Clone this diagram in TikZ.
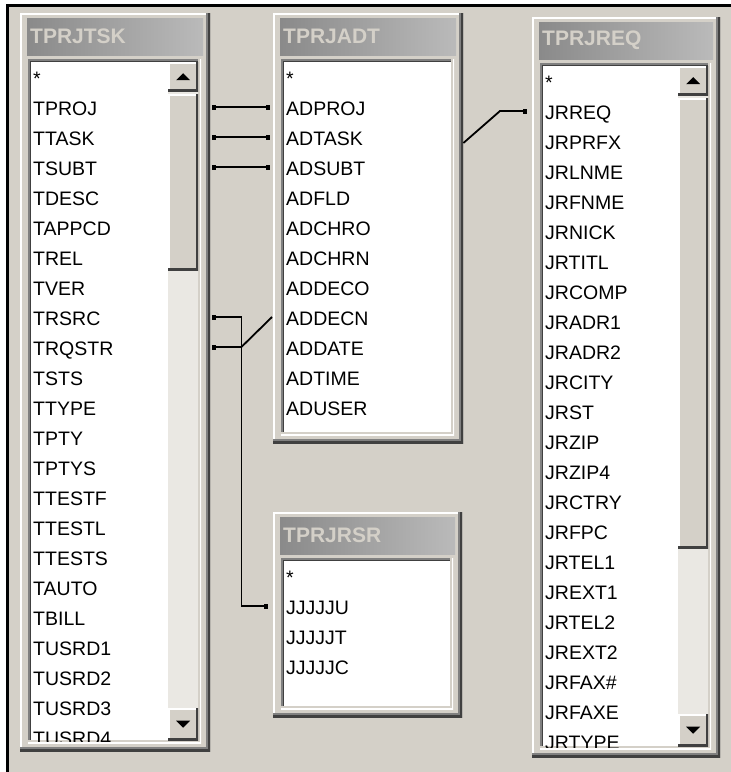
\documentclass[tikz,border=0pt]{standalone}
\usepackage{fontspec}
\setmainfont{Liberation Sans}
\usetikzlibrary{arrows.meta}

\definecolor{winbg}{RGB}{212,208,200}
\definecolor{windark}{RGB}{64,64,64}
\definecolor{winshade}{RGB}{128,128,128}
\definecolor{trackfill}{RGB}{234,232,227}
\definecolor{titleleft}{RGB}{138,138,138}
\definecolor{titleright}{RGB}{186,186,186}

% one table window: name, north west corner, width, height, title, fields
\newcommand{\qrywin}[6]{%
  \node[winbox, minimum width=#3, minimum height=#4] (#1) at #2 {};
  \node[titlebar, minimum width=#3-14] (#1-title) at ([shift={(7,5)}]#1.north west) {};
  \node[titletext] at ([xshift=3pt]#1-title.west) {#5};
  \node[listbox, minimum width=#3-17, minimum height=#4-54] (#1-list) at ([shift={(8,46)}]#1.north west) {};
  \begin{scope}
    \clip ([shift={(2,2)}]#1-list.north west) rectangle ([shift={(-2,-2)}]#1-list.south east);
    \foreach \f [count=\i from 0] in {#6}
      \node[field] (#1\i) at ([shift={(5,26+30*\i)}]#1-list.north west) {\f};
  \end{scope}
}

% scroll bar inside a list box: list node, thumb length
\newcommand{\vscroll}[2]{%
  \fill[trackfill] ([shift={(-33,3)}]#1.north east) rectangle ([shift={(-3,-3)}]#1.south east);
  \node[btn, minimum height=29] (#1-up) at ([shift={(-3,3)}]#1.north east) {};
  \node[btn, minimum height=#2] (#1-thumb) at ([shift={(-3,35)}]#1.north east) {};
  \node[btn, anchor=south east, minimum height=32] (#1-down) at ([shift={(-3,-3)}]#1.south east) {};
  \fill ([shift={(-7,3.5)}]#1-up.center) -- ++(14,0) -- ++(-7,-7) -- cycle;
  \fill ([shift={(-7,-3.5)}]#1-down.center) -- ++(14,0) -- ++(-7,7) -- cycle;
}

\begin{document}
\begin{tikzpicture}[
  x=1pt, y=-1pt,
  >={Square[length=4pt,width=5pt]},
  winbox/.style={anchor=north west, inner sep=0pt, fill=winbg,
    path picture={
      \draw[white, line width=3pt] (path picture bounding box.south west) |- (path picture bounding box.north east);
      \draw[winshade, line width=8pt] (path picture bounding box.south west) -| (path picture bounding box.north east);
      \draw[windark, line width=4pt] (path picture bounding box.south west) -| (path picture bounding box.north east);}},
  listbox/.style={anchor=north west, inner sep=0pt, fill=white,
    path picture={
      \draw[windark, line width=6pt] (path picture bounding box.south west) |- (path picture bounding box.north east);
      \draw[winshade, line width=3pt] (path picture bounding box.south west) |- (path picture bounding box.north east);
      \draw[winbg, line width=6pt] (path picture bounding box.south west) -| (path picture bounding box.north east);
      \draw[white, line width=3pt] (path picture bounding box.south west) -| (path picture bounding box.north east);}},
  btn/.style={anchor=north east, inner sep=0pt, minimum width=30, fill=winbg,
    path picture={
      \draw[white, line width=3pt] (path picture bounding box.south west) |- (path picture bounding box.north east);
      \draw[windark, line width=4pt] (path picture bounding box.south west) -| (path picture bounding box.north east);}},
  titlebar/.style={anchor=north west, inner sep=0pt, minimum height=37, left color=titleleft, right color=titleright},
  titletext/.style={anchor=west, inner sep=0pt, text=winbg, font=\fontsize{21}{24}\selectfont\bfseries},
  field/.style={anchor=base west, inner sep=0pt, text height=16pt, text depth=0pt, font=\fontsize{19.5}{22}\selectfont},
  joinline/.style={draw, line width=1.8pt}
]
\useasboundingbox (0,0) rectangle (731,772);
\fill[white] (0,0) rectangle (731,772);
\fill[winbg] (7,5) rectangle (731,772);
\draw[line width=3pt] (7,772) |- (731,5);

\qrywin{tsk}{(20,13)}{190}{738}{TPRJTSK}{*, TPROJ, TTASK, TSUBT, TDESC, TAPPCD, TREL, TVER, TRSRC, TRQSTR, TSTS, TTYPE, TPTY, TPTYS, TTESTF, TTESTL, TTESTS, TAUTO, TBILL, TUSRD1, TUSRD2, TUSRD3, TUSRD4}
\qrywin{adt}{(273,13)}{190}{430}{TPRJADT}{*, ADPROJ, ADTASK, ADSUBT, ADFLD, ADCHRO, ADCHRN, ADDECO, ADDECN, ADDATE, ADTIME, ADUSER}
\qrywin{req}{(532,17)}{188}{740}{TPRJREQ}{*, JRREQ, JRPRFX, JRLNME, JRFNME, JRNICK, JRTITL, JRCOMP, JRADR1, JRADR2, JRCITY, JRST, JRZIP, JRZIP4, JRCTRY, JRFPC, JRTEL1, JREXT1, JRTEL2, JREXT2, JRFAX\#, JRFAXE, JRTYPE}
\qrywin{rsr}{(273,512)}{189}{205}{TPRJRSR}{*, JJJJJU, JJJJJT, JJJJJC}

\vscroll{tsk-list}{176}
\vscroll{req-list}{450}

\draw[joinline, <->] ([xshift=2pt]tsk1 -| tsk.east) -- ([xshift=-3pt]adt1 -| adt.west);
\draw[joinline, <->] ([xshift=2pt]tsk2 -| tsk.east) -- ([xshift=-3pt]adt2 -| adt.west);
\draw[joinline, <->] ([xshift=2pt]tsk3 -| tsk.east) -- ([xshift=-3pt]adt3 -| adt.west);
\draw[joinline, ->] ([yshift=-6pt]adt2 -| adt.east) -- ([xshift=-32pt]req1 -| req.west) -- ([xshift=-5pt]req1 -| req.west);
\draw[joinline, <->] ([xshift=2pt]tsk8 -| tsk.east) -- ++(29,0) |- ([xshift=-5pt]rsr1 -| rsr.west);
\draw[joinline, <-] ([xshift=2pt]tsk9 -| tsk.east) -- ++(29,0) -- ([xshift=-1pt]adt8 -| adt.west);
\end{tikzpicture}
\end{document}
